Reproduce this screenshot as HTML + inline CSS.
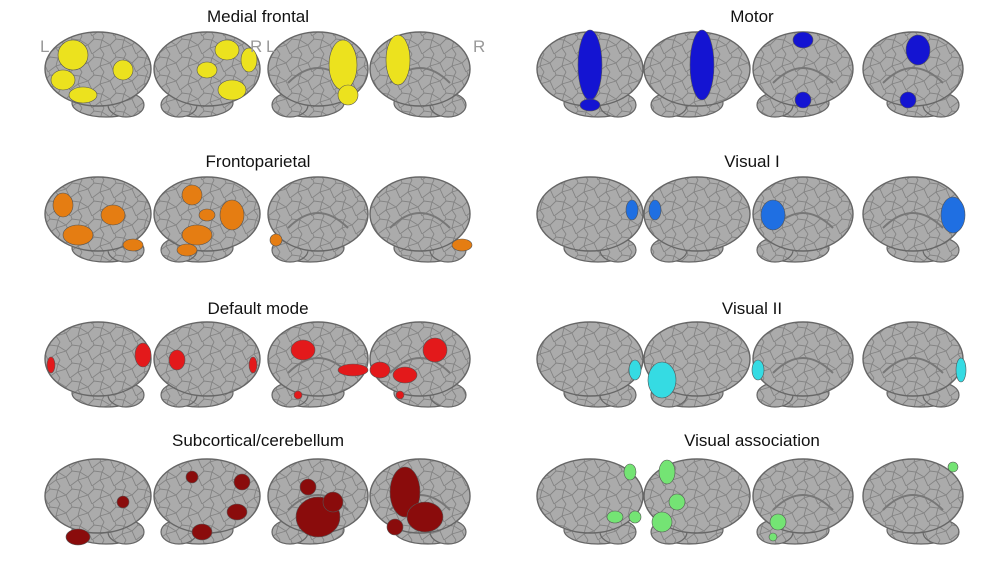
<!DOCTYPE html>
<html><head><meta charset="utf-8"><style>
html,body{margin:0;padding:0;background:#fff;}
svg{display:block;font-family:"Liberation Sans",Helvetica,Arial,sans-serif;}
</style></head><body>
<svg id="fig" width="1000" height="567" viewBox="0 0 1000 567">
<defs>
<pattern id="gyri" width="22" height="18" patternUnits="userSpaceOnUse">
<rect width="22" height="18" fill="#ababab"/>
<path d="M0 9 L6 3 L14 4 L22 9 M6 3 L5 0 M14 4 L16 0 M0 9 L4 18 M14 4 L12 12 L4 18 M12 12 L22 9 M12 12 L16 18" fill="none" stroke="#838383" stroke-width="0.9"/>
</pattern>
</defs>
</svg>
<script>
const titles = ["Medial frontal","Frontoparietal","Default mode","Subcortical/cerebellum","Motor","Visual I","Visual II","Visual association"];
const colors = ["#ece21e","#e57d12","#e3191b","#8a0c0c","#1414d2","#1f6fe2","#35dbe3","#74e474"];
const rowY = [75, 220, 365, 502];
const colX = [[98,207,318,420],[590,697,803,913]];
const titleY = [22, 167, 314, 446];
const titleX = [258, 752];
const blobs = [
 [[[-25,-20,15,15],[-35,5,12,10],[-15,20,14,8],[25,-5,10,10]],[[20,-25,12,10],[0,-5,10,8],[25,15,14,10],[42,-15,8,12]],[[25,-10,14,25],[30,20,10,10]],[[-22,-15,12,25]]],
 [[[-35,-15,10,12],[-20,15,15,10],[15,-5,12,10],[35,25,10,6]],[[-15,-25,10,10],[-10,15,15,10],[25,-5,12,15],[0,-5,8,6],[-20,30,10,6]],[[-42,20,6,6]],[[42,25,10,6]]],
 [[[-47,0,4,8],[45,-10,8,12]],[[-30,-5,8,10],[46,0,4,8]],[[-15,-15,12,10],[35,5,15,6],[-20,30,4,4]],[[15,-15,12,12],[-40,5,10,8],[-15,10,12,8],[-20,30,4,4]]],
 [[[-20,35,12,8],[25,0,6,6]],[[-15,-25,6,6],[30,10,10,8],[35,-20,8,8],[-5,30,10,8]],[[0,15,22,20],[-10,-15,8,8],[15,0,10,10]],[[-15,-10,15,25],[5,15,18,15],[-25,25,8,8]]],
 [[[0,-10,12,35],[0,30,10,6]],[[5,-10,12,35]],[[0,-35,10,8],[0,25,8,8]],[[5,-25,12,15],[-5,25,8,8]]],
 [[[42,-10,6,10]],[[-42,-10,6,10]],[[-30,-5,12,15]],[[40,-5,12,18]]],
 [[[45,5,6,10]],[[-35,15,14,18]],[[-45,5,6,10]],[[48,5,5,12]]],
 [[[40,-30,6,8],[25,15,8,6],[45,15,6,6]],[[-30,-30,8,12],[-35,20,10,10],[-20,0,8,8]],[[-25,20,8,8],[-30,35,4,4]],[[40,-35,5,5]]]
];
const NS="http://www.w3.org/2000/svg";
const svg=document.getElementById('fig');
function mk(t,a){const e=document.createElementNS(NS,t);for(const k in a)e.setAttribute(k,a[k]);svg.appendChild(e);return e;}
for(let p=0;p<8;p++){
  const col=p<4?0:1, row=p%4;
  const t=mk('text',{x:titleX[col],y:titleY[row],'text-anchor':'middle','font-size':17,fill:'#111'});
  t.textContent=titles[p];
  
  
  for(let b=0;b<4;b++){
    const cx=colX[col][b], cy=rowY[row];
    const g=document.createElementNS(NS,'g');svg.appendChild(g);
    
    
    const lat=b<2;
    const flip=(b===1||b===2)?-1:1;
    const tl=document.createElementNS(NS,'ellipse');
    tl.setAttribute('cx',cx+flip*8);tl.setAttribute('cy',cy+28);tl.setAttribute('rx',34);tl.setAttribute('ry',14);
    tl.setAttribute('fill','url(#gyri)');tl.setAttribute('stroke','#666');tl.setAttribute('stroke-width','1.2');g.appendChild(tl);
    const cb=document.createElementNS(NS,'ellipse');
    cb.setAttribute('cx',cx+flip*28);cb.setAttribute('cy',cy+30);cb.setAttribute('rx',18);cb.setAttribute('ry',12);
    cb.setAttribute('fill','url(#gyri)');cb.setAttribute('stroke','#666');cb.setAttribute('stroke-width','1.2');g.appendChild(cb);
    const e=document.createElementNS(NS,'ellipse');
    e.setAttribute('cx',cx);e.setAttribute('cy',cy-6);e.setAttribute('rx',lat?53:50);e.setAttribute('ry',37);
    e.setAttribute('fill','url(#gyri)');e.setAttribute('stroke','#666');e.setAttribute('stroke-width','1.4');g.appendChild(e);
    if(!lat){const m=document.createElementNS(NS,'path');
      m.setAttribute('d',`M${cx-30} ${cy+8} Q${cx} ${cy-22} ${cx+30} ${cy+8}`);
      m.setAttribute('fill','none');m.setAttribute('stroke','#777');m.setAttribute('stroke-width','2');g.appendChild(m);}
    for(const bl of blobs[p][b]){
      const c=document.createElementNS(NS,'ellipse');
      c.setAttribute('cx',cx+bl[0]);c.setAttribute('cy',cy+bl[1]);c.setAttribute('rx',bl[2]);c.setAttribute('ry',bl[3]);
      c.setAttribute('fill',colors[p]);c.setAttribute('stroke','#555');c.setAttribute('stroke-width','0.6');
      
      
      g.appendChild(c);
    }
  }
}
const lr=[["L",40,52],["R",250,52],["L",266,52],["R",473,52]];
for(const [s,x,y] of lr){const t=mk('text',{x:x,y:y,'font-size':17,fill:'#999'});t.textContent=s;
  
  }
</script>
</body></html>
